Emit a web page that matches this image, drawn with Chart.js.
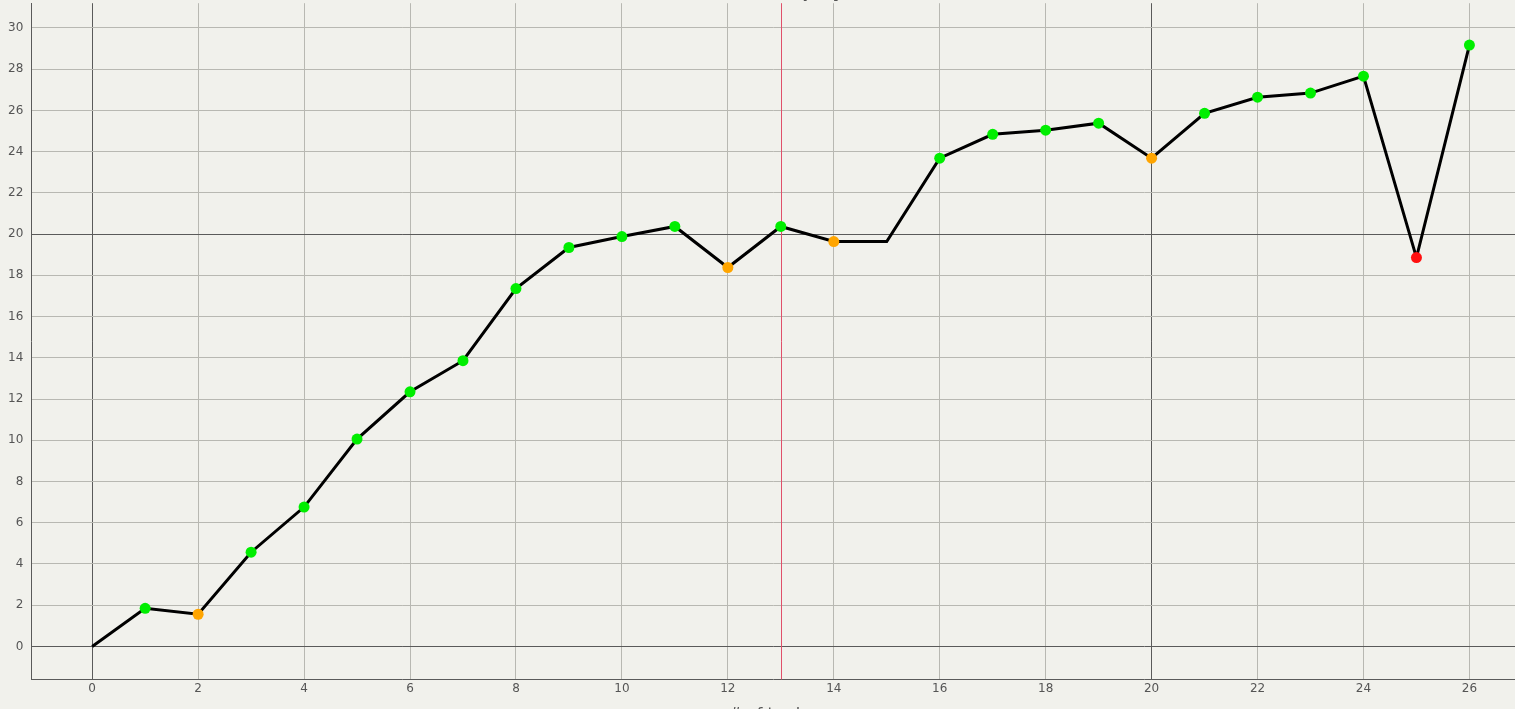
<!DOCTYPE html>
<html>
<head>
<meta charset="utf-8">
<script src="https://cdn.jsdelivr.net/npm/chart.js@4.4.0/dist/chart.umd.min.js"></script>
<style>
  html, body { margin: 0; padding: 0; background: #f1f1ec; overflow: hidden; }
  #wrap { position: absolute; left: 0; top: -32px; width: 1521px; height: 760px; }
</style>
</head>
<body>
<div id="wrap"><canvas id="chart"></canvas></div>
<script>
// DATA
const trades = [0, 1, 2, 3, 4, 5, 6, 7, 8, 9, 10, 11, 12, 13, 14, 15, 16, 17, 18, 19, 20, 21, 22, 23, 24, 25, 26];
const equity = [0, 1.85, 1.56, 4.57, 6.76, 10.06, 12.35, 13.86, 17.36, 19.35, 19.88, 20.37, 18.38, 20.37,
                19.64, 19.64, 23.68, 24.84, 25.04, 25.38, 23.68, 25.86, 26.64, 26.84, 27.66, 18.86, 29.17];
const markerTrade = 13;
const boldTicks = [0, 20];

const THEME = {
    bg: '#f1f1ec',
    grid: '#b8b8b2',
    gridBold: '#5a5a5a',
    marker: '#e0506a',
    up: '#00ee00',
    down: '#ffa500',
    crash: '#ff1010',
    text: '#555',
    font: 'DejaVu Sans'
};

// point colour from the move since the previous trade
function pointColor(i) {
    if (i === 0) return THEME.up;
    const d = equity[i] - equity[i - 1];
    if (d < -5) return THEME.crash;
    if (d < 0) return THEME.down;
    return THEME.up;
}
function pointRadius(i) {
    if (i === 0 || equity[i] === equity[i - 1]) return 0;
    return 5.5;
}

const markerLine = {
    id: 'markerLine',
    beforeDatasetsDraw(chart) {
        const { ctx, chartArea, scales } = chart;
        const x = Math.round(scales.x.getPixelForValue(markerTrade)) + 0.5;
        ctx.save();
        ctx.strokeStyle = THEME.marker;
        ctx.lineWidth = 1;
        ctx.beginPath();
        ctx.moveTo(x, chartArea.top);
        ctx.lineTo(x, chartArea.bottom);
        ctx.stroke();
        ctx.restore();
    }
};

Chart.defaults.font.family = THEME.font;
Chart.defaults.color = THEME.text;

new Chart(document.getElementById('chart'), {
    type: 'line',
    data: {
        datasets: [{
            label: 'equity',
            data: trades.map((t, i) => ({ x: t, y: equity[i] })),
            borderColor: '#000',
            borderWidth: 3,
            tension: 0,
            pointRadius: ctx => pointRadius(ctx.dataIndex),
            pointBackgroundColor: ctx => pointColor(ctx.dataIndex),
            pointBorderColor: ctx => pointColor(ctx.dataIndex),
            pointBorderWidth: 0
        }]
    },
    options: {
        responsive: true,
        maintainAspectRatio: false,
        animation: false,
        layout: { padding: 0 },
        scales: {
            x: {
                type: 'linear',
                min: -1.15,
                max: 26.87,
                border: { color: THEME.gridBold, width: 1 },
                grid: {
                    drawTicks: false,
                    color: c => boldTicks.includes(c.tick && c.tick.value) ? THEME.gridBold : THEME.grid
                },
                ticks: { stepSize: 2, includeBounds: false, padding: 2, font: { size: 12 } },
                title: { display: true, text: '# of trades', font: { size: 16 }, padding: { top: 7 } }
            },
            y: {
                min: -1.6,
                max: 31.2,
                border: { color: THEME.gridBold, width: 1 },
                grid: {
                    drawTicks: false,
                    color: c => boldTicks.includes(c.tick && c.tick.value) ? THEME.gridBold : THEME.grid
                },
                ticks: { stepSize: 2, includeBounds: false, padding: 8, font: { size: 12 } }
            }
        },
        plugins: {
            legend: { display: false },
            tooltip: { enabled: false },
            title: {
                display: true,
                text: 'Cumulative equity',
                font: { size: 16, weight: 'bold' },
                padding: { top: 16, bottom: 0 }
            }
        }
    },
    plugins: [markerLine]
});
</script>
</body>
</html>
